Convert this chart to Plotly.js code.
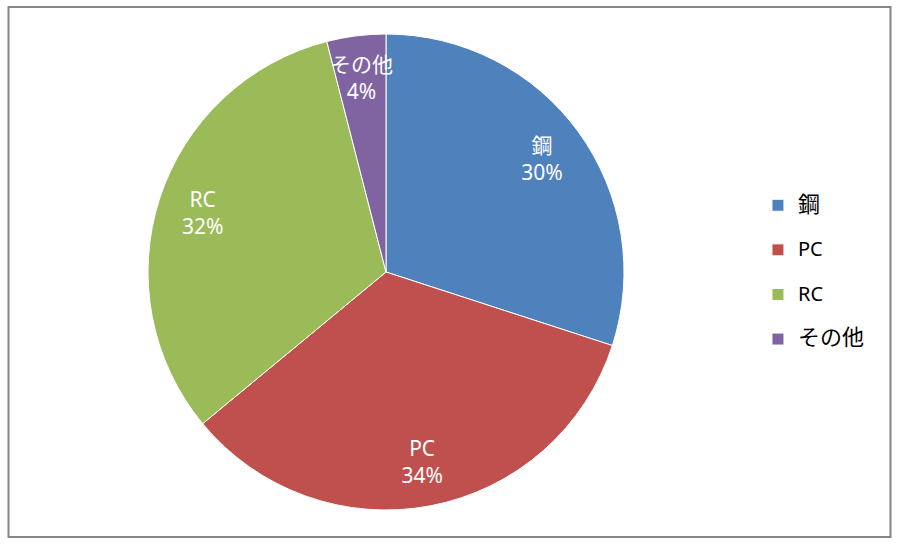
<!DOCTYPE html>
<html>
<head>
<meta charset="utf-8">
<script src="https://cdn.plot.ly/plotly-3.0.1.min.js"></script>
<style>html,body{margin:0;padding:0;background:#fff;}#chart{width:897px;height:546px;}</style>
</head>
<body>
<div id="chart"></div>
<script>
const categories = ['鋼', 'PC', 'RC', 'その他'];
const shares = [30, 34, 32, 4];
const sliceColors = ['#4F81BD', '#C0504D', '#9BBB59', '#8064A2'];

const FONT = "'Noto Sans', 'Noto Sans CJK JP', sans-serif";
const W = 897, H = 546;
const cx = 386, cy = 272, R = 238;
function domainFor(r) {
  return {
    x: [(cx - r) / W, (cx + r) / W],
    y: [(H - (cy + r)) / H, (H - (cy - r)) / H]
  };
}
const clear = categories.map(() => 'rgba(0,0,0,0)');
function legendLabel(c) {
  const size = /[\u3040-\u30ff\u4e00-\u9fff]/.test(c) ? 22 : 20;
  return '<span style="font-size:' + size + 'px">' + c + '</span><br> ';
}

const pieMain = {
  type: 'pie',
  labels: categories.map(legendLabel),
  values: shares,
  sort: false,
  direction: 'clockwise',
  rotation: 0,
  domain: domainFor(R),
  marker: { colors: sliceColors, line: { color: '#FFFFFF', width: 1 } },
  textinfo: 'none',
  hoverinfo: 'skip'
};

// invisible copy of the pie whose outer ring holds the slice labels
function labelPie(radius, positions) {
  return {
    type: 'pie',
    labels: categories,
    values: shares,
    sort: false,
    direction: 'clockwise',
    rotation: 0,
    hole: 0.62,
    domain: domainFor(radius),
    showlegend: false,
    marker: { colors: clear, line: { width: 0 } },
    texttemplate: '%{label}<br>%{percent:.0%}',
    textposition: positions,
    insidetextorientation: 'horizontal',
    insidetextfont: { color: '#FFFFFF', size: 21, family: FONT },
    hoverinfo: 'skip'
  };
}
const pieLabelsLarge = labelPie(R, ['inside', 'inside', 'inside', 'none']);
const pieLabelsSmall = labelPie(221, ['none', 'none', 'none', 'inside']);

const layout = {
  width: W, height: H,
  margin: { l: 0, r: 0, t: 0, b: 0 },
  paper_bgcolor: '#FFFFFF',
  font: { family: FONT, color: '#000000' },
  uniformtext: { mode: 'show', minsize: 21 },
  showlegend: true,
  legend: {
    x: 0.845, y: 0.655, xanchor: 'left', yanchor: 'top',
    valign: 'top',
    font: { size: 16, family: FONT, color: '#000000' },
    bgcolor: 'rgba(0,0,0,0)'
  },
  shapes: [{
    type: 'rect', xref: 'paper', yref: 'paper',
    x0: 8.5 / W, x1: 890.5 / W, y0: 1 - 537 / H, y1: 1 - 7 / H,
    line: { color: '#868686', width: 2 }, fillcolor: 'rgba(0,0,0,0)', layer: 'above'
  }]
};

Plotly.newPlot('chart', [pieMain, pieLabelsLarge, pieLabelsSmall], layout, { displayModeBar: false, staticPlot: true });
</script>
</body>
</html>
